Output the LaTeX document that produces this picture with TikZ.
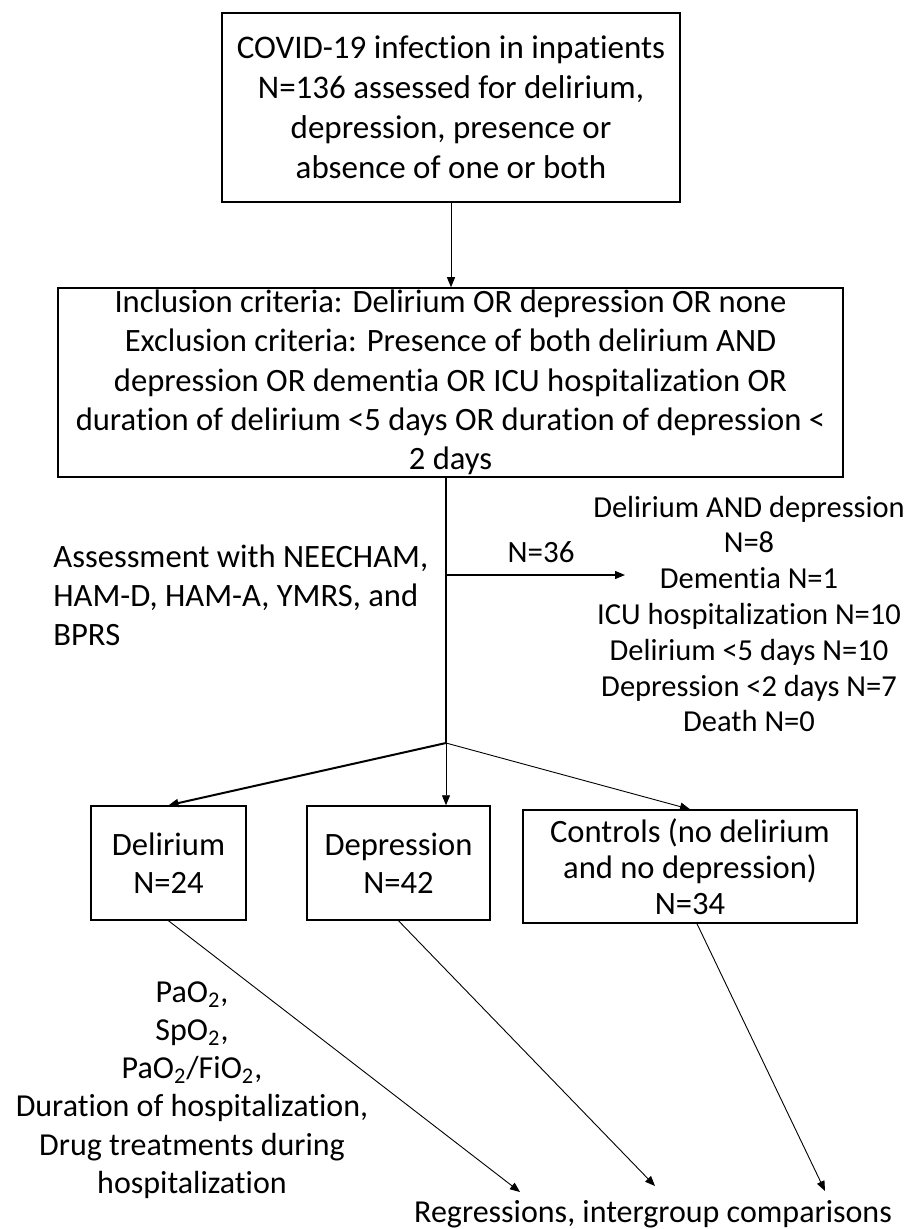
\documentclass[tikz,border=0pt]{standalone}
\usepackage{fontspec}
\setmainfont[Ligatures={NoCommon}]{Carlito}
\usepackage{tikz}
\usetikzlibrary{
  positioning,
  calc,
  arrows.meta
}

\begin{document}
\begin{tikzpicture}[x=0.5pt, y=-0.5pt,
    box/.style={draw, line width=0.75pt, align=center, inner sep=0pt},
    txt/.style={align=center, inner sep=0pt},
    arr/.style={-{Triangle[length=5pt, width=4pt]}, line width=0.45pt}]
      \useasboundingbox (0,0) rectangle (909,1229);

      % 最初の箱（対象患者）
      \node[box, minimum width=229pt, minimum height=94.5pt, font=\fontsize{16.5}{20}\selectfont]
        (covid) at (451,107.5)
        {COVID-19 infection in inpatients\\N=136 assessed for delirium,\\depression, presence or\\absence of one or both};
      % 包含・除外基準の箱
      \node[box, minimum width=392.5pt, minimum height=94.5pt, font=\fontsize{16.3}{19.6}\selectfont]
        (criteria) at (450.5,382.5)
        {Inclusion criteria: Delirium OR depression OR none\\
         Exclusion criteria: Presence of both delirium AND\\
         depression OR dementia OR ICU hospitalization OR\\
         duration of delirium <5 days OR duration of depression <\\
         2 days};

      % 分岐点と横矢印の始点
      \coordinate (split) at (446,743);
      \coordinate (side) at (446,575);
      \coordinate (excl-in) at (625,575);

      % 評価方法のテキスト
      \node[txt, align=left, anchor=west, font=\fontsize{16.3}{19.5}\selectfont]
        (assess) at (53,595)
        {Assessment with NEECHAM,\\HAM-D, HAM-A, YMRS, and\\BPRS};
      % 除外数
      \node[txt, font=\fontsize{15.5}{19}\selectfont] (n36) at (541,552) {N=36};
      % 除外理由の内訳
      \node[txt, font=\fontsize{15.25}{17.9}\selectfont]
        (excl) at (749,614)
        {Delirium AND depression\\N=8\\Dementia N=1\\ICU hospitalization N=10\\
         Delirium <5 days N=10\\Depression <2 days N=7\\Death N=0};

      % 三つの群
      \node[box, minimum width=77.5pt, minimum height=57pt, font=\fontsize{16.3}{19}\selectfont]
        (delirium) at (168.5,863) {Delirium\\N=24};
      \node[box, minimum width=91.5pt, minimum height=57pt, font=\fontsize{16.3}{19}\selectfont]
        (depression) at (398.5,863) {Depression\\N=42};
      \node[box, minimum width=167pt, minimum height=56.5pt, font=\fontsize{16.3}{18}\selectfont]
        (controls) at (690,866.5) {Controls (no delirium\\and no depression)\\N=34};

      % 測定項目
      \node[txt, font=\fontsize{16}{19.1}\selectfont]
        (params) at (192,1090)
        {PaO\textsubscript{2},\\SpO\textsubscript{2},\\PaO\textsubscript{2}/FiO\textsubscript{2},\\
         Duration of hospitalization,\\Drug treatments during\\hospitalization};
      % 最終解析
      \node[txt, font=\fontsize{16}{19}\selectfont]
        (result) at (653,1214) {Regressions, intergroup comparisons};

      % 下の矢印の先端
      \coordinate (r1) at (520,1192);
      \coordinate (r2) at (655,1186);
      \coordinate (r3) at (825,1191);

      % 最初の箱から基準の箱への矢印
      \draw[arr] (covid.south) -- (covid.south |- criteria.north);
      % 基準の箱から分岐点への線
      \draw[line width=0.6pt] (criteria.south -| split) -- (split);
      % 除外への矢印
      \draw[arr, line width=0.6pt] (side) -- (excl-in);

      % 分岐点から各群への矢印
      \draw[arr, line width=1pt] (split) -- (delirium.north);
      \draw[arr] (split) -- (split |- depression.north);
      \draw[arr] (split) -- (controls.north);

      % 各群から解析への矢印
      \draw[arr] (delirium.south) -- (r1);
      \draw[arr] (depression.south) -- (r2);
      \draw[arr] ($(controls.south)+(7,0)$) -- (r3);
    \end{tikzpicture}
\end{document}
